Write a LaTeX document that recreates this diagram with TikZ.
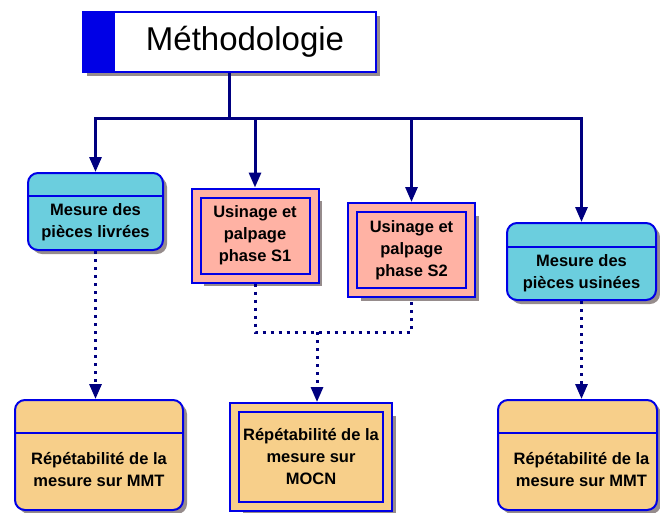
\documentclass[tikz,border=0pt]{standalone}
\usepackage{fontspec}
\setmainfont{Liberation Sans}
\usetikzlibrary{arrows.meta,shadows}
\definecolor{mBleu}{RGB}{0,0,230}
\definecolor{mNavy}{RGB}{0,0,128}
\definecolor{mCyan}{RGB}{107,206,222}
\definecolor{mRose}{RGB}{255,178,164}
\definecolor{mOrange}{RGB}{247,207,138}
\definecolor{mOmbre}{RGB}{150,140,140}
\newcommand{\boitefont}{\bfseries\fontsize{16.5}{22}\selectfont}

\begin{document}
\begin{tikzpicture}[x=1pt,y=-1pt,>={Triangle[length=15pt,width=12pt]},
  ombre/.style={drop shadow={shadow xshift=#1,shadow yshift=-#1,fill=mOmbre,opacity=1}},
  ombre/.default=4pt,
  titre/.style={draw=mBleu,line width=2pt,fill=white,ombre,inner sep=0pt,
    minimum width=293pt,minimum height=60pt,font=\fontsize{33}{40}\selectfont,
    path picture={\fill[mBleu] (path picture bounding box.north west) rectangle ([xshift=32pt]path picture bounding box.south west);}},
  etat/.style={draw=mBleu,line width=2pt,rounded corners=10pt,ombre,inner sep=0pt,
    path picture={\draw[mBleu,line width=2pt] ([yshift=-#1]path picture bounding box.north west) -- ([yshift=-#1]path picture bounding box.north east);}},
  etat/.default=23pt,
  usin/.style={draw=mBleu,line width=2pt,double=#1,double distance=7pt,fill=#1,
    ombre=8pt,outer sep=5.5pt,inner sep=0pt,align=center,font=\boitefont},
  texte/.style={align=center,font=\boitefont,inner sep=0pt},
  fleche/.style={->,draw=mNavy,line width=3pt},
  pointille/.style={draw=mNavy,line width=3pt,dash pattern=on 3pt off 5pt}]
\useasboundingbox (0,0) rectangle (660,512);
\clip (0,0) rectangle (660,512);

\node[titre] (titre) at (229.5,42) {\hspace*{31pt}Méthodologie};

% premier niveau
\node[etat,fill=mCyan,minimum width=135pt,minimum height=77pt] (mpl) at (95.5,211.5) {};
\node[texte] (mpl-t) at ([yshift=-11pt]mpl.center) {Mesure des\\pièces livrées};
\node[usin=mRose,minimum width=118pt,minimum height=85pt] (us1) at (255,235.5) {Usinage et\\palpage\\phase S1};
\node[usin=mRose,minimum width=118pt,minimum height=85pt] (us2) at (411.5,250) {Usinage et\\palpage\\phase S2};
\node[etat=24pt,fill=mCyan,minimum width=149pt,minimum height=77pt] (mpu) at (581.5,261.5) {};
\node[texte] (mpu-t) at ([yshift=-12pt]mpu.center) {Mesure des\\pièces usinées};

% second niveau
\node[etat=33pt,fill=mOrange,minimum width=168pt,minimum height=110pt] (rpl) at (99,455) {};
\node[texte] (rpl-t) at ([yshift=-15pt]rpl.center) {Répétabilité de la\\mesure sur MMT};
\node[usin=mOrange,minimum width=153pt,minimum height=98.5pt] (mocn) at (311,456.75) {Répétabilité de la\\mesure sur\\MOCN};
\node[etat=33pt,fill=mOrange,minimum width=159pt,minimum height=110pt] (rpu) at (577.5,455) {};
\node[texte] (rpu-t) at ([xshift=4pt,yshift=-15pt]rpu.center) {Répétabilité de la\\mesure sur MMT};

% arborescence
\coordinate (noeud) at ([yshift=-45pt]titre.south);
\draw[draw=mNavy,line width=3pt] (titre.south) -- (noeud);
\draw[fleche] (noeud) -| (mpl.north);
\draw[fleche] (noeud) -| (us1.north);
\draw[fleche] (noeud) -| (us2.north);
\draw[fleche] (noeud) -| (mpu.north);

% liens en pointille
\coordinate (jonct) at (317,332);
\draw[pointille,->] (mpl.south) -- (mpl.south |- rpl.north);
\draw[pointille] (us1.south) |- (jonct) -| (us2.south);
\draw[pointille,->] (jonct) -- (jonct |- mocn.north);
\draw[pointille,->] (mpu.south) -- (mpu.south |- rpu.north);
\end{tikzpicture}
\end{document}
